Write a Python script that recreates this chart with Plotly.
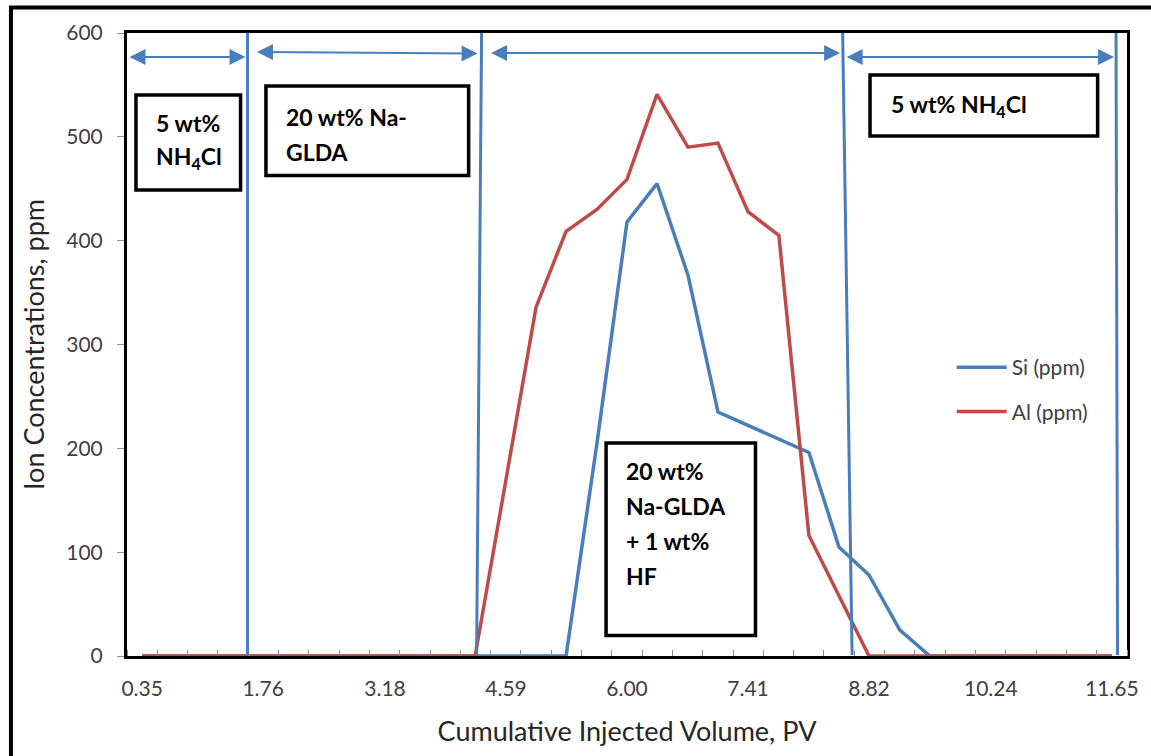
import plotly.graph_objects as go

# ---------------- data ----------------
PV = [0.35, 0.70, 1.06, 1.41, 1.76, 2.12, 2.47, 2.82, 3.18, 3.53, 3.88, 4.23,
      4.59, 4.94, 5.29, 5.65, 6.00, 6.35, 6.71, 7.06, 7.41, 7.77, 8.12, 8.47,
      8.82, 9.18, 9.53, 9.88, 10.24, 10.59, 10.94, 11.30, 11.65]
SI_PPM = [0, 0, 0, 0, 0, 0, 0, 0, 0, 0, 0, 0,
          0, 0, 0, 205, 418, 455, 367, 235, 222, 209, 196, 105,
          78, 25, 0, 0, 0, 0, 0, 0, 0]
AL_PPM = [0, 0, 0, 0, 0, 0, 0, 0, 0, 0, 0, 0,
          170, 336, 409, 430, 459, 541, 490, 494, 428, 405, 116, 58,
          0, 0, 0, 0, 0, 0, 0, 0, 0]
X_TICKS = [0.35, 1.76, 3.18, 4.59, 6.00, 7.41, 8.82, 10.24, 11.65]
Y_TICKS = [0, 100, 200, 300, 400, 500, 600]
SERIES_NAMES = ["Si (ppm)", "Al (ppm)"]

# ---------------- style / layout ----------------
W, H = 1151, 756
L, R, T, B = 127, 1131, 33, 656
FONT = "Lato"
BLUE = "#4A7EBB"
RED = "#BE4B48"
STEP = (PV[-1] - PV[0]) / (len(PV) - 1)


def fx(px):
    return (px - L) / (R - L)


def fy(py):
    return (B - py) / (B - T)


fig = go.Figure()
fig.add_trace(go.Scatter(x=PV, y=SI_PPM, mode="lines", name=SERIES_NAMES[0],
                         line=dict(color=BLUE, width=3.5), legendgroup="a"))
fig.add_trace(go.Scatter(x=PV, y=AL_PPM, mode="lines", name=SERIES_NAMES[1],
                         line=dict(color=RED, width=3.5), legendgroup="b"))

minor_vals = [PV[0] - STEP / 2 + k * STEP for k in range(len(PV) + 1)]

fig.update_layout(
    width=W, height=H,
    margin=dict(l=L, r=W - R, t=T, b=H - B, pad=0),
    paper_bgcolor="white", plot_bgcolor="white",
    font=dict(family=FONT, color="#404040", size=21),
    showlegend=True,
    legend=dict(x=fx(955), y=fy(347), xanchor="left", yanchor="top",
                bgcolor="rgba(0,0,0,0)", font=dict(size=21, color="#404040"),
                traceorder="grouped", tracegroupgap=14, itemwidth=50),
    xaxis=dict(
        range=[PV[0] - STEP / 2, PV[-1] + STEP / 2],
        tickmode="array", tickvals=X_TICKS,
        ticktext=[f"{v:.2f}" for v in X_TICKS],
        ticks="", ticklabelstandoff=12,
        minor=dict(tickmode="array", tickvals=minor_vals, ticks="inside",
                   ticklen=6, tickcolor="#8C8C8C", tickwidth=1),
        showline=True, linecolor="black", linewidth=3, mirror=True,
        showgrid=False, zeroline=False,
        title=dict(text="Cumulative Injected Volume, PV",
                   font=dict(size=27, color="#262626"), standoff=23),
        tickfont=dict(size=21, color="#404040"),
    ),
    yaxis=dict(
        range=[0, 600], tickmode="array", tickvals=Y_TICKS,
        ticks="outside", ticklen=7, tickcolor="#8C8C8C", tickwidth=1,
        ticklabelstandoff=10,
        showline=True, linecolor="black", linewidth=3, mirror=True,
        showgrid=False, zeroline=False,
        title=dict(text="Ion Concentrations, ppm",
                   font=dict(size=27, color="#262626"), standoff=14),
        tickfont=dict(size=21, color="#404040"),
    ),
)

shapes = []
# outer picture frame
shapes.append(dict(type="rect", xref="paper", yref="paper",
                   x0=fx(10.5), x1=fx(1175), y0=fy(780), y1=fy(7.5),
                   line=dict(color="black", width=4), layer="above"))
# phase separator lines (top px, bottom px)
for top_px, bot_px in [(248, 248), (483, 478), (845.5, 855), (1120, 1121.5)]:
    shapes.append(dict(type="line", xref="paper", yref="paper",
                       x0=fx(top_px), y0=fy(T), x1=fx(bot_px), y1=fy(B - 1),
                       line=dict(color=BLUE, width=3), layer="above"))
# text boxes (x0, y0, x1, y1 in px)
for x0, y0, x1, y1 in [(136, 95, 241, 190), (266.5, 86, 470, 175.5),
                       (873, 75, 1101.5, 136), (608, 443, 758, 635.5)]:
    shapes.append(dict(type="rect", xref="paper", yref="paper",
                       x0=fx(x0), x1=fx(x1), y0=fy(y1), y1=fy(y0),
                       line=dict(color="black", width=3.5),
                       fillcolor="white", layer="above"))
fig.update_layout(shapes=shapes)

ann = []
# double-headed arrows (x_start, y_start, x_end, y_end in px)
for xa, ya, xb, yb in [(128, 57, 246, 57), (256, 52, 479, 53.5),
                       (491, 53, 843, 53), (848, 57, 1118, 57)]:
    ann.append(dict(text="", showarrow=True,
                    xref="x domain", yref="y domain",
                    axref="x domain", ayref="y domain",
                    x=fx(xb), y=fy(yb), ax=fx(xa), ay=fy(ya),
                    arrowhead=2, startarrowhead=2, arrowside="end+start",
                    arrowsize=1.6, startarrowsize=1.6, arrowwidth=2,
                    arrowcolor=BLUE, standoff=0, startstandoff=0))
# box texts: (left px, centre y px, text)
box_lines = [
    (154, 123, "5 wt%"), (154, 158, "NH<sub>4</sub>Cl"),
    (285, 117, "20 wt% Na-"), (285, 152, "GLDA"),
    (892, 105, "5 wt% NH<sub>4</sub>Cl"),
    (626, 471, "20 wt%"), (626, 506, "Na-GLDA"),
    (626, 541, "+ 1 wt%"), (626, 576, "HF"),
]
for px, py, txt in box_lines:
    ann.append(dict(text=f"<b>{txt}</b>", showarrow=False,
                    xref="paper", yref="paper", x=fx(px), y=fy(py),
                    xanchor="left", yanchor="middle",
                    font=dict(family=FONT, size=23, color="black")))
fig.update_layout(annotations=ann)

fig.write_html("out.html")
